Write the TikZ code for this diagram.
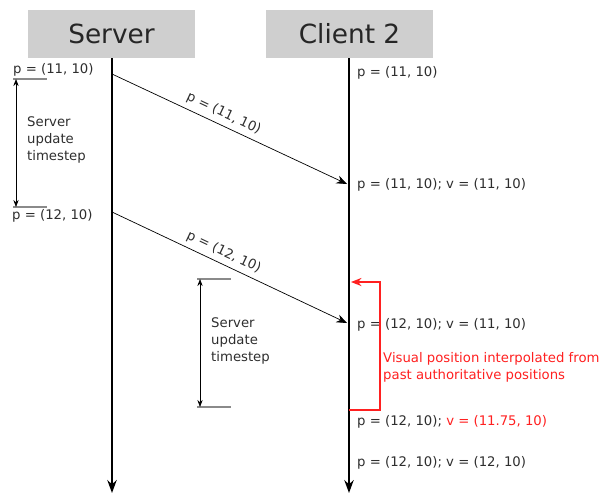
\documentclass[tikz,border=0pt]{standalone}
\usepackage{fontspec}
\setmainfont{DejaVu Sans}
\usetikzlibrary{arrows.meta}
\definecolor{hdrgray}{HTML}{CFCFCF}
\definecolor{txtgray}{HTML}{2E2E2E}
\definecolor{tickgray}{HTML}{8A8A8A}
\definecolor{interp}{HTML}{FF2020}

\begin{document}
\begin{tikzpicture}[x=0.03cm,y=-0.03cm,
    hdr/.style={fill=hdrgray,minimum width=5.01cm,minimum height=1.44cm,inner sep=0pt,font=\fontsize{22.5}{26}\selectfont,text=black!85},
    life/.style={line width=1.6pt,-{Stealth[length=11pt,width=8pt]}},
    msg/.style={line width=0.6pt,-{Stealth[length=9pt,width=7pt]}},
    lbl/.style={font=\fontsize{11.3}{14.5}\selectfont,text=txtgray,inner sep=0pt},
    tick/.style={tickgray,line width=0.9pt},
    span/.style={line width=0.6pt,{Stealth[length=6pt,width=4.5pt]}-{Stealth[length=6pt,width=4.5pt]}},
    note/.style={lbl,align=left,anchor=west}]

\useasboundingbox (0,0) rectangle (601,493);

% headers and lifelines
\node[hdr] (srv) at (111.5,34) {Server};
\node[hdr] (cli) at (349.5,34) {Client 2};
\coordinate (sEnd) at (112,493);
\coordinate (cEnd) at (349,493);
\draw[life] (srv.south -| sEnd) -- (sEnd);
\draw[life] (cli.south -| cEnd) -- (cEnd);

% messages
\coordinate (m1a) at (112,74);
\coordinate (m1b) at (347,184);
\coordinate (m2a) at (112,212);
\coordinate (m2b) at (347,323);
\draw[msg] (m1a) -- node[lbl,above=4pt,sloped,pos=0.455] {p = (11, 10)} (m1b);
\draw[msg] (m2a) -- node[lbl,above=4pt,sloped,pos=0.455] {p = (12, 10)} (m2b);

% server timestep (left)
\node[lbl,anchor=west] (v1) at (13,70) {p = (11, 10)};
\node[lbl,anchor=west] (v2) at (12,216) {p = (12, 10)};
\coordinate (t1a) at (13,79);
\coordinate (t1b) at (13,207);
\draw[tick] (t1a) -- ++(34,0);
\draw[tick] (t1b) -- ++(34,0);
\draw[span] ([xshift=0.09cm]t1a) -- ([xshift=0.09cm]t1b);
\node[note] (v3) at (27,140) {Server\\update\\timestep};

% server timestep (middle)
\coordinate (t2a) at (197,279);
\coordinate (t2b) at (197,407);
\draw[tick] (t2a) -- ++(34,0);
\draw[tick] (t2b) -- ++(34,0);
\draw[span] ([xshift=0.09cm]t2a) -- ([xshift=0.09cm]t2b);
\node[note] (v4) at (211,340.5) {Server\\update\\timestep};

% client states
\node[lbl,anchor=west] (c1) at (357,73) {p = (11, 10)};
\node[lbl,anchor=west] (c2) at (357,185) {p = (11, 10); v = (11, 10)};
\node[lbl,anchor=west] (c3) at (357,325) {p = (12, 10); v = (11, 10)};
\node[lbl,anchor=west] (c4) at (357,422) {p = (12, 10); \textcolor{interp}{v = (11.75, 10)}};
\node[lbl,anchor=west] (c5) at (357,463) {p = (12, 10); v = (12, 10)};

% interpolation bracket
\coordinate (r1) at (349,410);
\coordinate (r2) at (351,282);
\draw[interp,line width=0.9pt,-{Stealth[length=9pt,width=7pt]}] (r1) -- (380,410) -- (380,282) -- (r2);
\node[note,text=interp] (v5) at (383,367) {Visual position interpolated from\\past authoritative positions};

\end{tikzpicture}
\end{document}
